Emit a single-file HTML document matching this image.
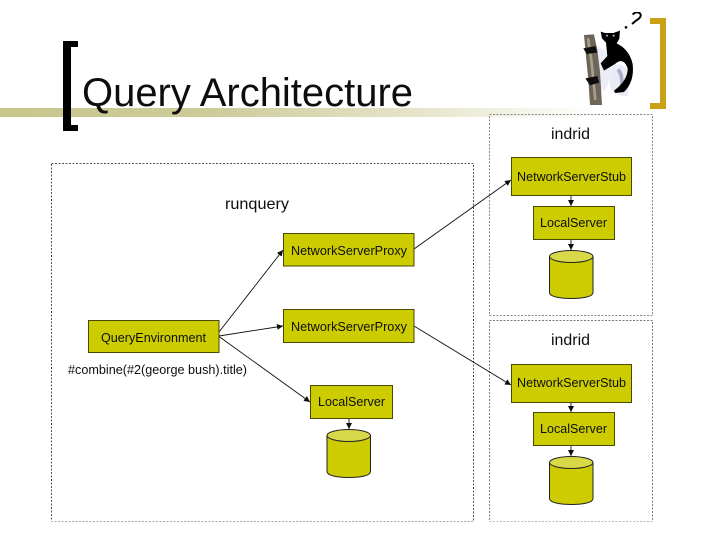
<!DOCTYPE html>
<html>
<head>
<meta charset="utf-8">
<style>
html,body{margin:0;padding:0;background:#fff;width:720px;height:540px;overflow:hidden}
svg{display:block}
text{font-family:"Liberation Sans",sans-serif;fill:#111}
</style>
</head>
<body>
<svg width="720" height="540" viewBox="0 0 720 540" xmlns="http://www.w3.org/2000/svg">
<defs>
<linearGradient id="bar" x1="0" x2="1" y1="0" y2="0">
<stop offset="0" stop-color="#c8c68c"/>
<stop offset="0.35" stop-color="#cdcb99"/>
<stop offset="0.7" stop-color="#e6e5cb"/>
<stop offset="1" stop-color="#ffffff"/>
</linearGradient>
<marker id="a" markerWidth="8" markerHeight="8" refX="6" refY="3" orient="auto" markerUnits="userSpaceOnUse">
<path d="M0,0 L6,3 L0,6 Z" fill="#111"/>
</marker>
<filter id="jpeg" x="0" y="0" width="100%" height="100%"><feGaussianBlur stdDeviation="0.3"/></filter>
</defs>

<g filter="url(#jpeg)">
<!-- title bar and brackets -->
<rect x="0" y="108" width="600" height="9" fill="url(#bar)"/>
<path d="M78,41 H63 V131 H78 V125 H71 V47 H78 Z" fill="#000"/>
<path d="M650,18 H666 V109 H650 V103 H660 V24 H650 Z" fill="#c9a012"/>
<text x="82" y="106" font-size="40" textLength="331" lengthAdjust="spacingAndGlyphs">Query Architecture</text>

<!-- lemur -->
<g transform="translate(560,0) scale(0.3333)">
<path d="M105,135 L150,160 L152,235 L135,272 L108,268 L118,210 Z" fill="#eceef7"/>
<path d="M150,205 Q185,175 208,220 L205,288 Q172,292 150,262 Z" fill="#e9ebf5"/>
<path d="M178,205 Q195,220 190,270 L178,272 Q186,235 170,212 Z" fill="#a9aec8"/>
<path d="M72,105 L102,103 L112,150 L120,215 L126,315 L90,315 L85,240 L78,170 Z" fill="#6e6558"/>
<path d="M84,115 L94,180 L106,300" stroke="#a89f8e" stroke-width="8" fill="none"/>
<path d="M122,95 L135,99 L160,99 L180,92 L178,116 L170,130 Q208,148 218,192 Q224,245 192,276 L165,279 L162,272 Q204,240 203,205 Q190,170 165,192 L132,212 L122,190 L142,168 L138,128 L126,115 Z" fill="#050505"/>
<path d="M70,145 L106,138 L112,158 L80,162 Z" fill="#111"/>
<path d="M76,235 L112,228 L118,248 L90,256 Z" fill="#111"/>
<circle cx="141" cy="107" r="3" fill="#bbb"/><circle cx="161" cy="107" r="3" fill="#bbb"/>
<path d="M218,44 Q228,32 240,40 Q248,50 228,62 L216,72" stroke="#000" stroke-width="6" fill="none"/>
<circle cx="198" cy="82" r="4" fill="#000"/>
</g>

<!-- dashed containers -->
<g fill="none" stroke-width="1" stroke-dasharray="2 1.5">
<rect x="51.5" y="163.5" width="422" height="358" stroke="#555"/>
<rect x="489.5" y="114.5" width="163" height="201" stroke="#888"/>
<rect x="489.5" y="320.5" width="163" height="201" stroke="#777"/>
</g>

<!-- connectors -->
<g stroke="#111" stroke-width="0.9" fill="none" marker-end="url(#a)">
<line x1="219" y1="332" x2="283" y2="250"/>
<line x1="219" y1="336" x2="283" y2="326"/>
<line x1="219" y1="336.5" x2="310" y2="402"/>
<line x1="414" y1="249" x2="511" y2="180"/>
<line x1="414" y1="326" x2="511" y2="385"/>
<line x1="571" y1="196" x2="571" y2="206"/>
<line x1="571" y1="239.5" x2="571" y2="250"/>
<line x1="571" y1="402" x2="571" y2="412"/>
<line x1="571" y1="446" x2="571" y2="456"/>
<line x1="349" y1="418" x2="349" y2="429"/>
</g>

<!-- boxes -->
<g fill="#cccc00" stroke="#4a4a00" stroke-width="1">
<rect x="88.5" y="320.5" width="130.5" height="32"/>
<rect x="283.5" y="233.5" width="130.5" height="32.5"/>
<rect x="283.5" y="309.5" width="130.5" height="33"/>
<rect x="310.5" y="385.5" width="82" height="33"/>
<rect x="511.5" y="157.5" width="120" height="38"/>
<rect x="533.5" y="206.5" width="81" height="33"/>
<rect x="511.5" y="364.5" width="120" height="38"/>
<rect x="533.5" y="412.5" width="81" height="33"/>
</g>

<!-- cylinders -->
<g stroke="#222" stroke-width="1">
<g transform="translate(549.5,250.5)">
<path d="M0,6 V42 C0,46 10,48 22,48 C34,48 43.5,46 43.5,42 V6 Z" fill="#cccc00"/>
<ellipse cx="21.75" cy="6" rx="21.75" ry="6" fill="#d8d84a"/>
</g>
<g transform="translate(549.5,456.5)">
<path d="M0,6 V42 C0,46 10,48 22,48 C34,48 43.5,46 43.5,42 V6 Z" fill="#cccc00"/>
<ellipse cx="21.75" cy="6" rx="21.75" ry="6" fill="#d8d84a"/>
</g>
<g transform="translate(327,429.5)">
<path d="M0,6 V42 C0,46 10,48 22,48 C34,48 43.5,46 43.5,42 V6 Z" fill="#cccc00"/>
<ellipse cx="21.75" cy="6" rx="21.75" ry="6" fill="#d8d84a"/>
</g>
</g>

<!-- labels -->
<g font-size="12.6">
<text x="101" y="342" textLength="105" lengthAdjust="spacingAndGlyphs">QueryEnvironment</text>
<text x="291" y="255" textLength="116" lengthAdjust="spacingAndGlyphs">NetworkServerProxy</text>
<text x="291" y="331" textLength="116" lengthAdjust="spacingAndGlyphs">NetworkServerProxy</text>
<text x="318" y="406" textLength="67" lengthAdjust="spacingAndGlyphs">LocalServer</text>
<text x="517" y="181" textLength="109" lengthAdjust="spacingAndGlyphs">NetworkServerStub</text>
<text x="540" y="227" textLength="67" lengthAdjust="spacingAndGlyphs">LocalServer</text>
<text x="517" y="387" textLength="109" lengthAdjust="spacingAndGlyphs">NetworkServerStub</text>
<text x="540" y="433" textLength="67" lengthAdjust="spacingAndGlyphs">LocalServer</text>
<text x="68" y="374" font-size="13" textLength="179" lengthAdjust="spacingAndGlyphs">#combine(#2(george bush).title)</text>
</g>
<text x="225" y="209" font-size="16" textLength="64" lengthAdjust="spacingAndGlyphs">runquery</text>
<text x="551" y="139" font-size="16" textLength="39" lengthAdjust="spacingAndGlyphs">indrid</text>
<text x="551" y="345" font-size="16" textLength="39" lengthAdjust="spacingAndGlyphs">indrid</text>
</g>
</svg>
</body>
</html>
